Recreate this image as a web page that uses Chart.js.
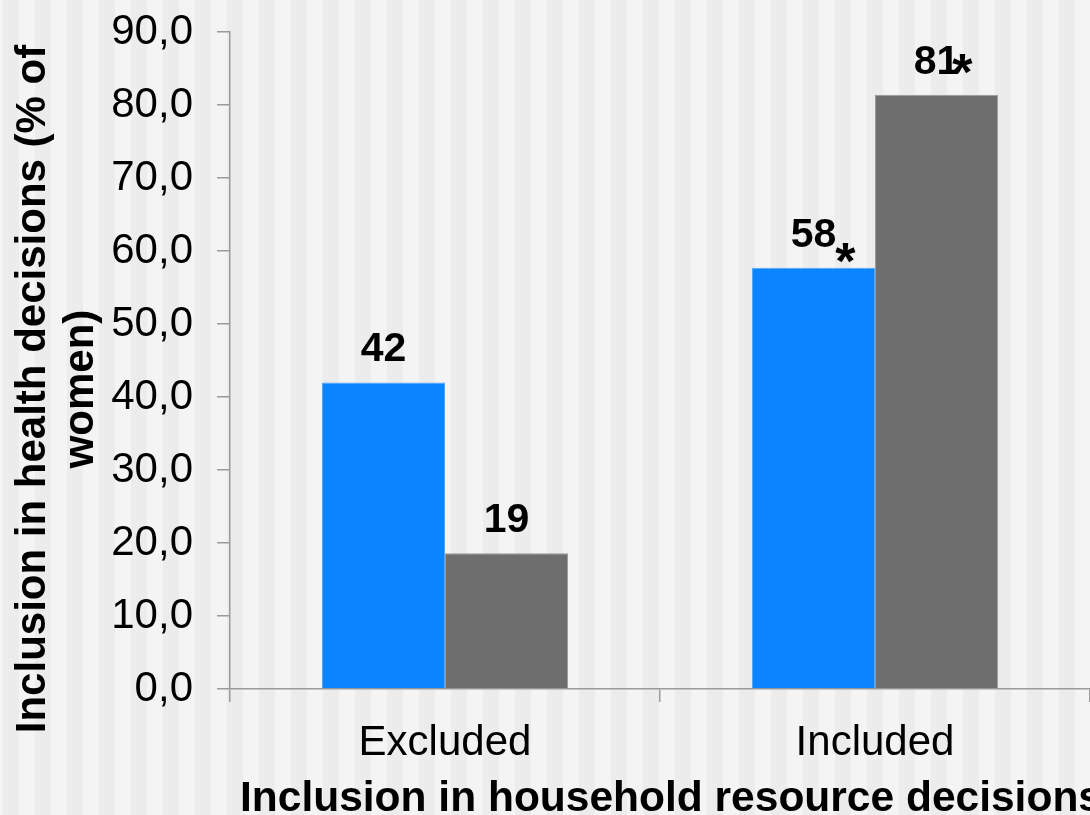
<!DOCTYPE html>
<html>
<head>
<meta charset="utf-8">
<script src="https://cdn.jsdelivr.net/npm/chart.js@4.4.0/dist/chart.umd.min.js"></script>
<style>
  html, body { margin: 0; padding: 0; background: #f4f4f4; }
  #wrap { width: 1090px; height: 815px; }
</style>
</head>
<body>
<div id="wrap"><canvas id="barChart" width="1090" height="815"></canvas></div>
<script>
'use strict'

//categorias del eje x
const categorias = [ 'Excluded', 'Included' ];

//valores de cada serie (% de mujeres)
const serieAzul = [ 42.0, 57.7 ];
const serieGris = [ 18.6, 81.4 ];

//etiquetas sobre las barras
const etiquetasAzul = [ '42', '58' ];
const etiquetasGris = [ '19', '81' ];
const asteriscosAzul = [ '', '*' ];
const asteriscosGris = [ '', '*' ];

//marcas del eje y
const ticksY = [ 0, 10, 20, 30, 40, 50, 60, 70, 80, 90 ];

//titulos
const tituloY = [ 'Inclusion in health decisions (% of', 'women)' ];
const tituloX = 'Inclusion in household resource decisions';

const fuente = '"Liberation Sans", Arial, sans-serif';
const colorEje = '#9a9a9a';

//fondo con franjas verticales
const franjas =
{
  id: 'franjas',
  beforeDraw( chart )
  {
    const ctx = chart.ctx;
    ctx.save( );
    ctx.fillStyle = '#f4f4f4';
    ctx.fillRect( 0, 0, chart.width, chart.height );
    ctx.fillStyle = '#ececec';
    for ( let x = 3; x < chart.width; x += 32 )
    {
      ctx.fillRect( x, 0, 16, chart.height );
    }
    ctx.restore( );
  }
};

//numeros encima de las barras (+ asterisco)
const etiquetas =
{
  id: 'etiquetas',
  afterDatasetsDraw( chart )
  {
    const ctx = chart.ctx;
    const textos = [ etiquetasAzul, etiquetasGris ];
    const stars = [ asteriscosAzul, asteriscosGris ];
    //desplazamiento del asterisco [dx, dy]
    const desplaza = [ [ [ 0, 0 ], [ -1, 32 ] ], [ [ 0, 0 ], [ -7, 16 ] ] ];

    ctx.save( );
    ctx.fillStyle = '#000';
    ctx.textBaseline = 'alphabetic';

    chart.data.datasets.forEach( ( ds, i ) =>
    {
      chart.getDatasetMeta( i ).data.forEach( ( bar, j ) =>
      {
        const txt = textos[ i ][ j ];
        const y = bar.y - 21;
        ctx.font = 'bold 41px ' + fuente;
        ctx.textAlign = 'center';
        ctx.fillText( txt, bar.x, y );

        if ( stars[ i ][ j ] )
        {
          const w = ctx.measureText( txt ).width;
          ctx.font = 'bold 52px ' + fuente;
          ctx.textAlign = 'left';
          ctx.fillText( stars[ i ][ j ], bar.x + w / 2 + desplaza[ i ][ j ][ 0 ], y + desplaza[ i ][ j ][ 1 ] );
        }
      });
    });
    ctx.restore( );
  }
};

//titulos de los ejes
const titulos =
{
  id: 'titulos',
  afterDraw( chart )
  {
    const ctx = chart.ctx;
    ctx.save( );
    ctx.font = 'bold 42px ' + fuente;
    ctx.fillStyle = '#000';
    ctx.textBaseline = 'alphabetic';

    //eje y, dos lineas giradas
    ctx.textAlign = 'center';
    [ 45, 93 ].forEach( ( bx, k ) =>
    {
      ctx.save( );
      ctx.translate( bx, 389 );
      ctx.rotate( -Math.PI / 2 );
      ctx.fillText( tituloY[ k ], 0, 0 );
      ctx.restore( );
    });

    //eje x
    ctx.font = 'bold 42.5px ' + fuente;
    ctx.textAlign = 'left';
    ctx.fillText( tituloX, 240, 811 );
    ctx.restore( );
  }
};

//creación de la grafica
const barCanvas = document.getElementById( 'barChart' ).getContext( '2d' );

const barData =
{
  labels: categorias,
  datasets:
  [
    {
      label: 'Serie 1',
      data: serieAzul,
      backgroundColor: '#0a84ff',
      borderColor: '#4ea6ff',
      borderWidth: 1,
      categoryPercentage: 0.572,
      barPercentage: 1.0,
    },
    {
      label: 'Serie 2',
      data: serieGris,
      backgroundColor: '#6e6e6e',
      borderColor: '#9a9a9a',
      borderWidth: 1,
      categoryPercentage: 0.572,
      barPercentage: 1.0,
    }
  ]
};

const barOptions =
{
  responsive: false,
  devicePixelRatio: 1,
  animation: false,
  layout: { padding: { top: 32, right: 0, bottom: 0, left: 0 } },
  plugins:
  {
    legend: { display: false },
    tooltip: { enabled: false },
  },
  scales:
  {
    x:
    {
      offset: true,
      grid: { offset: true, drawOnChartArea: false, tickLength: 13, color: colorEje, lineWidth: 1.5 },
      border: { color: colorEje, width: 1.5 },
      ticks: { color: '#000', font: { family: fuente, size: 42 }, padding: 16, maxRotation: 0 },
      afterFit: scale => { scale.height = 126; },
    },
    y:
    {
      min: ticksY[ 0 ],
      max: ticksY[ ticksY.length - 1 ],
      afterBuildTicks: scale => { scale.ticks = ticksY.map( v => ( { value: v } ) ); },
      grid: { drawOnChartArea: false, tickLength: 13, color: colorEje, lineWidth: 1.5 },
      border: { color: colorEje, width: 1.5 },
      ticks:
      {
        color: '#000',
        font: { family: fuente, size: 42 },
        padding: 24,
        callback: v => v.toFixed( 1 ).replace( '.', ',' ),
      },
      afterFit: scale =>
      {
        scale.width = 230;
        scale.paddingTop = 0;
        scale.paddingBottom = 0;
      },
    }
  }
};

const barChart = new Chart( barCanvas,
{
  type: 'bar',
  data: barData,
  options: barOptions,
  plugins: [ franjas, etiquetas, titulos ]
});
</script>
</body>
</html>
